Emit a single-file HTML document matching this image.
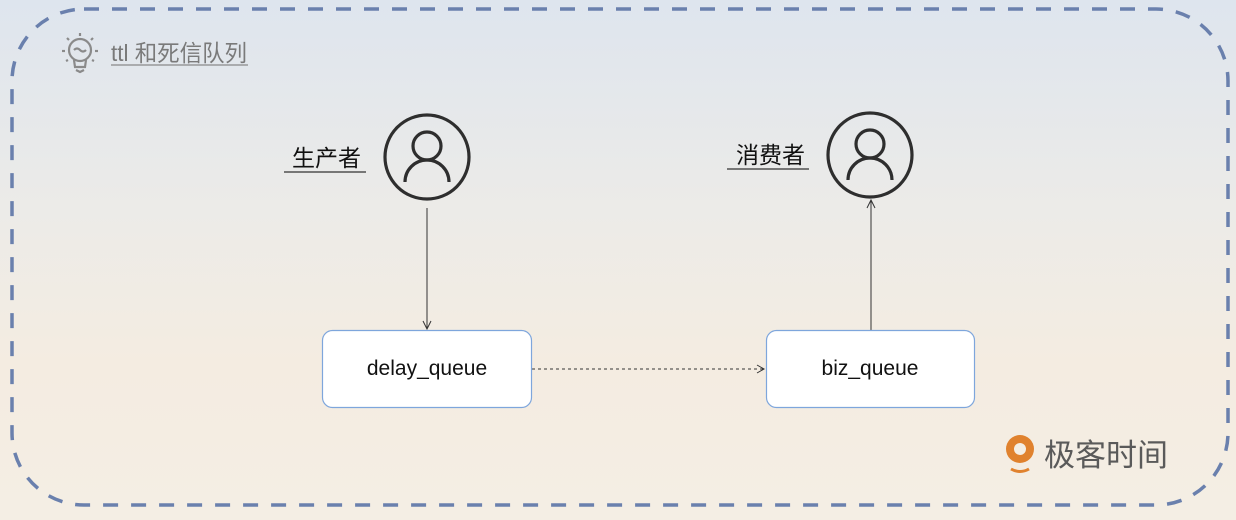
<!DOCTYPE html>
<html><head><meta charset="utf-8"><style>
body{margin:0;width:1236px;height:520px;overflow:hidden;background:linear-gradient(#dee5ee 0%,#ecebe8 40%,#f4ece1 70%,#f4eee4 100%);font-family:"Liberation Sans","Noto Sans CJK SC",sans-serif;}
svg{position:absolute;left:0;top:0}
</style></head><body>
<svg width="1236" height="520" viewBox="0 0 1236 520">
<rect x="12" y="9" width="1216" height="496" rx="72" fill="none" stroke="#6a80ad" stroke-width="3.5" stroke-dasharray="15 13"/>
<!-- bulb icon -->
<g stroke="#8a8a8a" stroke-width="2.2" fill="none">
<circle cx="80" cy="50" r="11"/>
<path d="M74 60 L75 67 L85 67 L86 60"/>
<path d="M76 70 L80 72 L84 70"/>
<path d="M74 50 q3-3 6 0 q3 3 6 0"/>
<line x1="80" y1="33" x2="80" y2="36"/><line x1="62" y1="51" x2="65" y2="51"/><line x1="95" y1="51" x2="98" y2="51"/>
<line x1="67" y1="38" x2="69" y2="40"/><line x1="93" y1="38" x2="91" y2="40"/>
<line x1="66" y1="61" x2="68" y2="60"/><line x1="94" y1="61" x2="92" y2="60"/>
</g>
<text x="111" y="61" font-size="23" fill="#7a7a7a" textLength="136" lengthAdjust="spacingAndGlyphs" font-family="Liberation Sans,Noto Sans CJK SC,sans-serif">ttl 和死信队列</text>
<line x1="111" y1="65" x2="248" y2="65" stroke="#888" stroke-width="1.2"/>
<!-- producer -->
<text x="292" y="166" font-size="23" fill="#111" font-family="Liberation Sans,Noto Sans CJK SC,sans-serif">生产者</text>
<line x1="284" y1="172" x2="366" y2="172" stroke="#333" stroke-width="1.2"/>
<circle cx="427" cy="157" r="42" fill="none" stroke="#2e2e2e" stroke-width="3.2"/>
<circle cx="427" cy="146" r="14" fill="none" stroke="#2e2e2e" stroke-width="3.2"/>
<path d="M405 182 a22 22 0 0 1 44 0" fill="none" stroke="#2e2e2e" stroke-width="3.2"/>
<!-- consumer -->
<text x="736" y="163" font-size="23" fill="#111" font-family="Liberation Sans,Noto Sans CJK SC,sans-serif">消费者</text>
<line x1="727" y1="169" x2="809" y2="169" stroke="#333" stroke-width="1.2"/>
<circle cx="870" cy="155" r="42" fill="none" stroke="#2e2e2e" stroke-width="3.2"/>
<circle cx="870" cy="144" r="14" fill="none" stroke="#2e2e2e" stroke-width="3.2"/>
<path d="M848 180 a22 22 0 0 1 44 0" fill="none" stroke="#2e2e2e" stroke-width="3.2"/>
<!-- connectors -->
<line x1="427" y1="208" x2="427" y2="329" stroke="#333" stroke-width="1"/>
<path d="M423 321 L427 329 L431 321" fill="none" stroke="#333" stroke-width="1"/>
<line x1="871" y1="330" x2="871" y2="200" stroke="#333" stroke-width="1"/>
<path d="M867 208 L871 200 L875 208" fill="none" stroke="#333" stroke-width="1"/>
<line x1="532" y1="369" x2="764" y2="369" stroke="#333" stroke-width="1" stroke-dasharray="3 3"/>
<path d="M757 365 L764 369 L757 373" fill="none" stroke="#333" stroke-width="1"/>
<!-- boxes -->
<rect x="322.5" y="330.5" width="209" height="77" rx="10" fill="#fff" stroke="#7ea6dc" stroke-width="1.2"/>
<text x="427" y="375" font-size="21" text-anchor="middle" fill="#111">delay_queue</text>
<rect x="766.5" y="330.5" width="208" height="77" rx="10" fill="#fff" stroke="#7ea6dc" stroke-width="1.2"/>
<text x="870" y="375" font-size="21" text-anchor="middle" fill="#111">biz_queue</text>
<!-- logo -->
<circle cx="1020" cy="449" r="14" fill="#e0822e"/>
<circle cx="1020" cy="449" r="6" fill="#f4eee4"/>
<path d="M1011 469 q9 5 18 0" stroke="#e0822e" stroke-width="3" fill="none"/>
<text x="1044" y="466" font-size="31" fill="#5a5a5a" textLength="124" lengthAdjust="spacingAndGlyphs" font-family="Noto Sans CJK SC,sans-serif">极客时间</text>
</svg>
</body></html>
